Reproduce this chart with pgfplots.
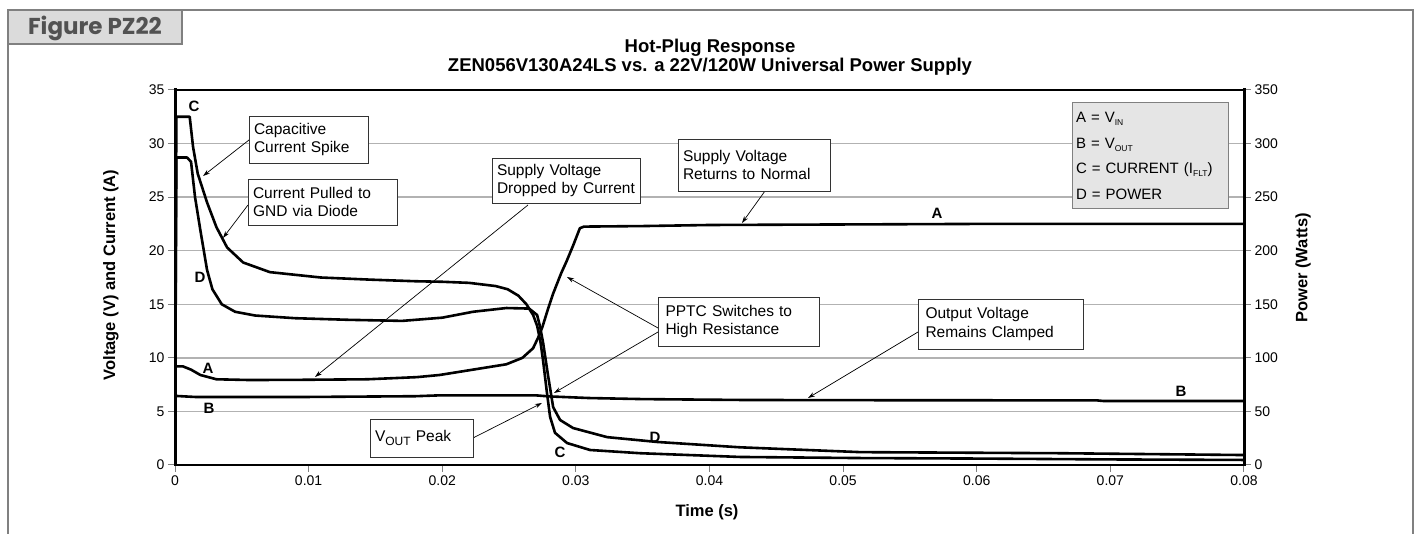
\documentclass[border=0pt]{standalone}
\usepackage{fontspec}
\setmainfont{Liberation Sans}
\newfontfamily\figfont{Poppins}
\usepackage{pgfplots}
\pgfplotsset{compat=1.18}
\usetikzlibrary{arrows.meta}
\newcommand{\sub}[1]{\raisebox{-3pt}{\fontsize{8.5}{8.5}\selectfont #1}}
\begin{document}
\begin{tikzpicture}
\useasboundingbox (-175pt,-69pt) rectangle (1243pt,465pt);
\begin{axis}[at={(0,0)}, anchor=south west, scale only axis, width=1069pt, height=375pt,
  xmin=0, xmax=0.08, ymin=0, ymax=35,
  axis line style={draw=none},
  scaled x ticks=false, scaled y ticks=false,
  xtick={0,0.01,0.02,0.03,0.04,0.05,0.06,0.07,0.08},
  xticklabels={0,0.01,0.02,0.03,0.04,0.05,0.06,0.07,0.08},
  ytick={0,5,10,15,20,25,30,35},
  yticklabels={0,5,10,15,20,25,30,35},
  xtick pos=lower, ytick pos=left,
  tick align=outside, major tick length=7pt,
  tick style={black!50, line width=1pt},
  ymajorgrids, grid style={black!30, line width=1.4pt},
  tick label style={font=\fontsize{14}{16}\selectfont},
  /pgf/number format/assume math mode=true,
  curve/.style={black, line width=2.6pt, mark=none, line join=round},
]
% A = V_IN
\addplot[curve] coordinates {(0,9.2) (0.0006,9.2) (0.0012,8.9) (0.0019,8.4) (0.0031,8.0) (0.0056,7.93) (0.0094,7.95) (0.0144,8.0) (0.0181,8.2) (0.0198,8.4) (0.0223,8.9) (0.0248,9.4) (0.026,10.0) (0.0268,10.9) (0.0272,11.95) (0.0275,12.9) (0.0279,14.5) (0.0283,16.0) (0.0289,17.9) (0.0293,19.0) (0.0298,20.5) (0.0303,22.1) (0.0306,22.25) (0.035,22.3) (0.04,22.4) (0.05,22.45) (0.06,22.5) (0.08,22.5)};
% B = V_OUT
\addplot[curve] coordinates {(0,6.45) (0.0015,6.35) (0.01,6.35) (0.018,6.42) (0.0198,6.5) (0.027,6.5) (0.028,6.4) (0.031,6.25) (0.035,6.15) (0.0423,6.07) (0.05,6.05) (0.069,6.03) (0.0695,5.97) (0.08,5.97)};
% C = current
\addplot[curve] coordinates {(0,0) (0.0001,32.5) (0.0011,32.5) (0.00135,29.7) (0.0017,27.2) (0.0024,24.5) (0.0031,22.2) (0.0039,20.3) (0.0051,18.9) (0.0071,18.0) (0.0109,17.5) (0.0146,17.3) (0.018,17.15) (0.02,17.1) (0.022,17.0) (0.024,16.7) (0.0249,16.4) (0.0257,15.8) (0.0263,15.0) (0.0268,14.0) (0.0271,13.0) (0.02735,11.5) (0.02754,9.8) (0.02784,6.7) (0.02807,4.5) (0.02844,3.0) (0.02934,2.05) (0.03106,1.4) (0.0348,1.1) (0.0423,0.75) (0.051,0.65) (0.06,0.6) (0.07,0.52) (0.08,0.47)};
% D = power (W/10)
\addplot[curve] coordinates {(0,0) (0.0001,28.7) (0.0009,28.7) (0.0012,28.3) (0.0015,25.0) (0.0019,21.9) (0.0024,18.2) (0.0028,16.4) (0.0035,15.0) (0.0045,14.3) (0.006,13.95) (0.009,13.7) (0.013,13.55) (0.017,13.45) (0.02,13.75) (0.0223,14.3) (0.0248,14.65) (0.0265,14.6) (0.0271,14.0) (0.02732,12.9) (0.02755,11.4) (0.0279,8.5) (0.0283,5.4) (0.02882,4.2) (0.02979,3.45) (0.03234,2.6) (0.03608,2.15) (0.0423,1.65) (0.0513,1.2) (0.0662,1.1) (0.08,0.93)};
\end{axis}
\begin{axis}[at={(0,0)}, anchor=south west, scale only axis, width=1069pt, height=375pt,
  xmin=0, xmax=0.08, ymin=0, ymax=350,
  hide x axis, axis y line*=right, axis line style={draw=none},
  scaled y ticks=false,
  ytick={0,50,100,150,200,250,300,350},
  yticklabels={0,50,100,150,200,250,300,350},
  tick align=outside, major tick length=7pt,
  tick style={black!50, line width=1pt},
  tick label style={font=\fontsize{14}{16}\selectfont},
  /pgf/number format/assume math mode=true,
]
\addplot[draw=none] coordinates {(0,0)};
\end{axis}
\begin{scope}[x=1pt,y=-1pt,shift={(-175pt,465pt)}]
% frame
\draw[black!50, line width=1.5pt] (8,534) -- (8,10) -- (1413,10) -- (1413,534);
\draw[black!50, fill=black!14, line width=1.2pt] (8,10) rectangle (182,44);
\node[font=\figfont\bfseries\fontsize{23}{25}\selectfont, text=black!68] at (95,28) {Figure PZ22};
% axis lines
\draw[line width=1.2pt] (175,90) -- (1244,90);
\draw[line width=2pt] (174,465) -- (1245,465);
\draw[line width=3pt] (175,88.5) -- (175,466);
\draw[line width=3pt] (1244,88.5) -- (1244,466);
% titles
\node[font=\bfseries\fontsize{18.5}{19.5}\selectfont, align=center] at (710,57) {Hot-Plug Response\\ZEN056V130A24LS vs. a 22V/120W Universal Power Supply};
\node[font=\bfseries\fontsize{16.5}{18}\selectfont] at (707,512) {Time (s)};
\node[font=\bfseries\fontsize{16.5}{18}\selectfont, rotate=90] at (111,275) {Voltage (V) and Current (A)};
\node[font=\bfseries\fontsize{16.5}{18}\selectfont, rotate=90] at (1303,268) {Power (Watts)};
% curve letters
\begin{scope}[every node/.style={font=\bfseries\fontsize{15}{16}\selectfont}]
\node at (194,106) {C};
\node at (200,277) {D};
\node at (208,368) {A};
\node at (209,408) {B};
\node at (560,452) {C};
\node at (655,437) {D};
\node at (937,213) {A};
\node at (1181,391) {B};
\end{scope}
% annotations
\begin{scope}[every node/.style={draw=black!80, line width=0.8pt, fill=white, align=left, inner sep=0pt, font=\fontsize{15.5}{18.5}\selectfont},
  arr/.style={black, line width=0.7pt, -{Stealth[length=7pt,width=4.5pt]}}]
\draw[arr] (249,140) -- (203,176);
\draw[arr] (248,205) -- (223,238);
\draw[arr] (528,205) -- (315,377);
\draw[arr] (765,191) -- (742,223);
\draw[arr] (658,328) -- (567,277);
\draw[arr] (658,332) -- (554,393);
\draw[arr] (918,332) -- (808,398);
\draw[arr] (473,438) -- (542,403);
\node[minimum width=119pt, minimum height=47pt, text width=109pt] at (308.5,139.5) {Capacitive\\Current Spike};
\node[minimum width=149pt, minimum height=46pt, text width=139pt] at (322.5,202) {Current Pulled to\\GND via Diode};
\node[minimum width=148pt, minimum height=45pt, text width=138pt] at (566,180.5) {Supply Voltage\\Dropped by Current};
\node[minimum width=152pt, minimum height=52pt, text width=142pt] at (754,165) {Supply Voltage\\Returns to Normal};
\node[minimum width=161pt, minimum height=49pt, text width=146pt] at (738.5,321.5) {PPTC Switches to\\High Resistance};
\node[minimum width=165pt, minimum height=50pt, text width=150pt] at (1000.5,324) {Output Voltage\\Remains Clamped};
\node[minimum width=103pt, minimum height=38pt, text width=93pt] at (421.5,438) {V\raisebox{-3.5pt}{\fontsize{12}{12}\selectfont OUT} Peak};
% legend
\node[draw=black!50, fill=black!10, line width=1pt, minimum width=156pt, minimum height=106pt, text width=148pt, font=\fontsize{15}{25.7}\selectfont] at (1150,156) {A = V\sub{IN}\\B = V\sub{OUT}\\C = CURRENT (I\sub{FLT})\\D = POWER};
\end{scope}
\end{scope}
\end{tikzpicture}
\end{document}
